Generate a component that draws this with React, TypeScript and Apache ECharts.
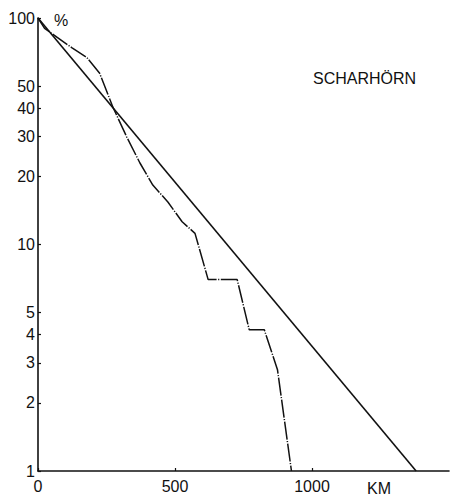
import React, { useEffect, useRef } from "react";
import * as echarts from "echarts";

// Tick positions and labels
const xTickValues = [0, 500, 1000];
const yTickValues = [1, 2, 3, 4, 5, 10, 20, 30, 40, 50, 100];

// Straight reference decay line (km, %)
const lineKm = [0, 1380];
const linePct = [100, 1];

// Observed cumulative distribution, Scharhörn (km, %)
const curveKm = [0, 24, 123, 178, 225, 273, 324, 372, 419, 474, 526, 573, 621, 727, 771, 826, 874, 925];
const curvePct = [100, 90, 74, 67, 57, 40.5, 29.8, 22.9, 18.3, 15.4, 12.6, 11.2, 7.0, 7.0, 4.2, 4.2, 2.8, 1];

const FONT = "'Liberation Sans', Arial, sans-serif";
const INK = "#111";

export default function App() {
  const ref = useRef<HTMLDivElement>(null);

  useEffect(() => {
    if (!ref.current) return;
    const chart = echarts.init(ref.current, null, { renderer: "svg" });
    chart.setOption({
      animation: false,
      backgroundColor: "#fff",
      grid: { left: 38, top: 18, right: 3, bottom: 24 },
      xAxis: {
        type: "value",
        min: 0,
        max: 1500,
        splitLine: { show: false },
        axisLine: { lineStyle: { color: INK, width: 1.6 } },
        axisTick: { show: true, inside: true, length: 3, customValues: xTickValues, lineStyle: { color: INK, width: 1.2 } },
        axisLabel: {
          customValues: xTickValues,
          formatter: (v: number) => String(v),
          fontSize: 16,
          color: INK,
          fontFamily: FONT,
          margin: 7,
        },
      },
      yAxis: {
        type: "log",
        logBase: 10,
        min: 1,
        max: 100,
        splitLine: { show: false },
        minorTick: { show: false },
        axisLine: { show: true, lineStyle: { color: INK, width: 1.6 } },
        axisTick: { show: true, inside: true, length: 3, customValues: yTickValues, lineStyle: { color: INK, width: 1.2 } },
        axisLabel: {
          customValues: yTickValues,
          formatter: (v: number) => String(v),
          fontSize: 16,
          color: INK,
          fontFamily: FONT,
          margin: 3,
        },
      },
      graphic: [
        { type: "text", left: 54, top: 12, style: { text: "%", fontSize: 16, fill: INK, fontFamily: FONT } },
        { type: "text", left: 313, top: 70, style: { text: "SCHARHÖRN", fontSize: 16, fill: INK, fontFamily: FONT } },
        { type: "text", left: 367, top: 480, style: { text: "KM", fontSize: 16, fill: INK, fontFamily: FONT } },
      ],
      series: [
        {
          type: "line",
          data: lineKm.map((k, i) => [k, linePct[i]]),
          showSymbol: false,
          symbol: "none",
          lineStyle: { color: INK, width: 1.6 },
        },
        {
          type: "line",
          data: curveKm.map((k, i) => [k, curvePct[i]]),
          showSymbol: false,
          symbol: "none",
          lineStyle: { color: INK, width: 1.5, type: [18, 1.5, 1.2, 1.5] },
        },
      ],
    });
    return () => chart.dispose();
  }, []);

  return (
    <div
      ref={ref}
      style={{ position: "fixed", left: 0, top: 0, width: 452, height: 495, background: "#fff" }}
    />
  );
}
